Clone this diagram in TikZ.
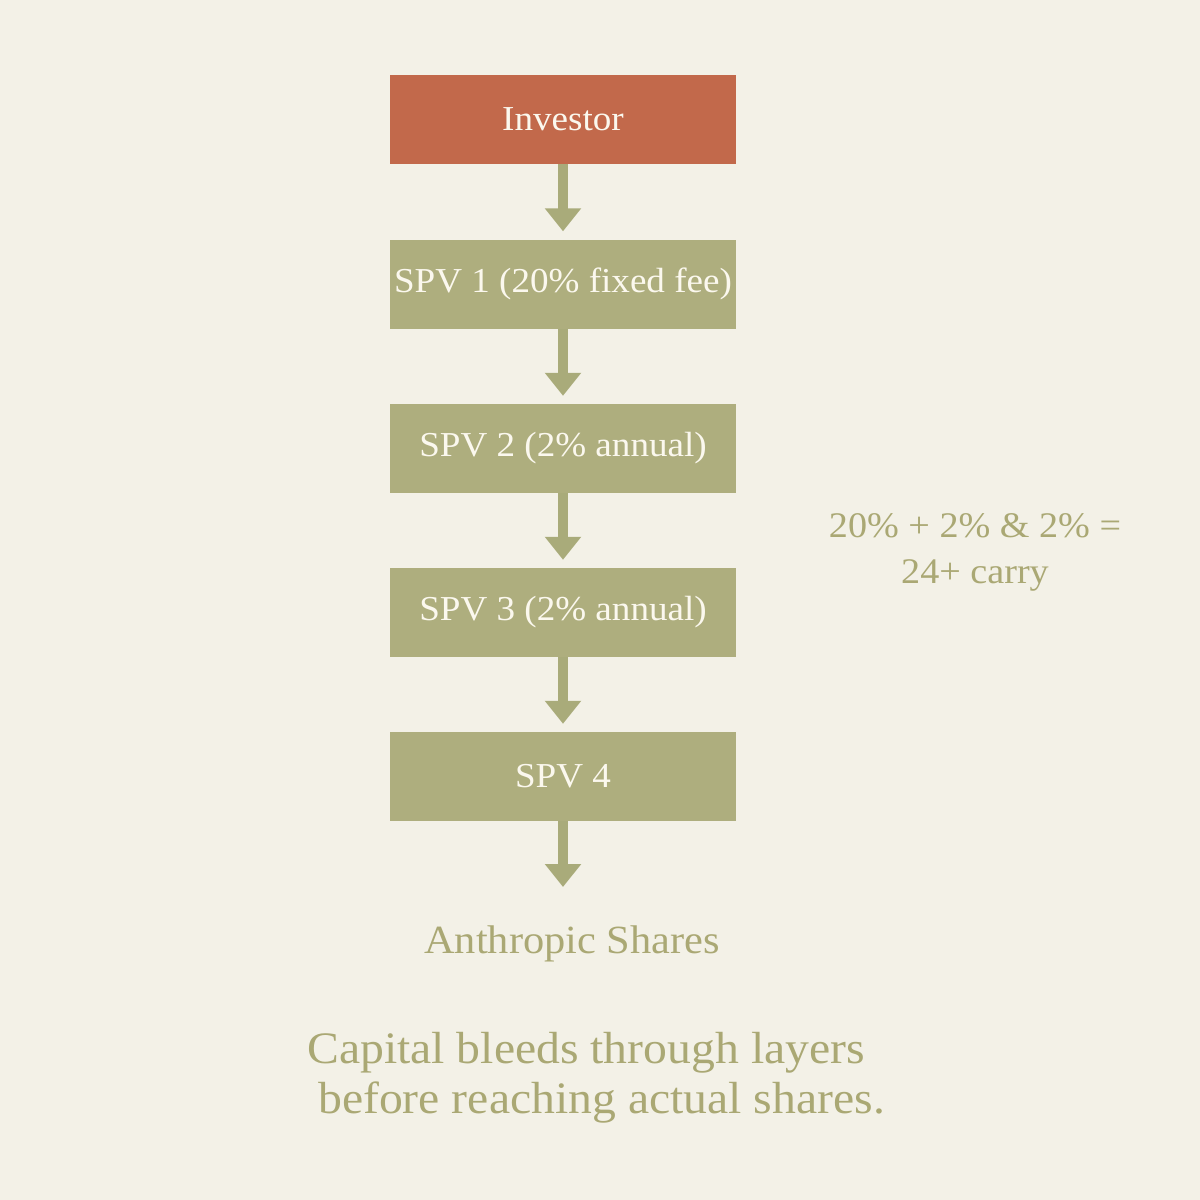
\documentclass[tikz,border=0pt]{standalone}
\usepackage{fontspec}
\setmainfont{Liberation Serif}[FakeStretch=1.06]
\usetikzlibrary{arrows.meta}
\definecolor{bgc}{HTML}{F3F1E7}
\definecolor{redbox}{HTML}{C2694B}
\definecolor{greenbox}{HTML}{AEAE7E}
\definecolor{arrowc}{HTML}{A9AB7A}
\definecolor{textg}{HTML}{AAA874}
\definecolor{boxtext}{HTML}{FBF8EE}
\tikzset{
  x=1pt,y=-1pt,
  stepbox/.style={minimum width=346pt,minimum height=89pt,inner sep=0pt,text=boxtext,font=\fontsize{35}{40}\selectfont},
  flow/.style={draw=arrowc,line width=10pt,-{Triangle[length=23pt,width=35pt]},shorten >=8pt},
  gtext/.style={text=textg,inner sep=0pt,align=center}
}
\begin{document}
\begin{tikzpicture}
\fill[bgc] (0,0) rectangle (1200,1200);
\useasboundingbox (0,0) rectangle (1200,1200);
\node[stepbox,fill=redbox] (inv) at (563,119) {Investor};
\node[stepbox,fill=greenbox] (s1) at (563,284) {SPV 1 (20\% fixed fee)};
\node[stepbox,fill=greenbox] (s2) at (563,448.5) {SPV 2 (2\% annual)};
\node[stepbox,fill=greenbox] (s3) at (563,612.5) {SPV 3 (2\% annual)};
\node[stepbox,fill=greenbox] (s4) at (563,776.5) {SPV 4};
\coordinate (end) at (563,895);
\node[gtext,font=\fontsize{40}{44}\selectfont] (ant) at (572,944) {Anthropic Shares};
\node[gtext,font=\fontsize{36}{46}\selectfont] (side) at (975,552) {20\% + 2\% \& 2\% =\\24+ carry};
\node[gtext,font=\fontsize{45}{50}\selectfont,anchor=base west] (cap1) at (307,1063) {Capital bleeds through layers};
\node[gtext,font=\fontsize{45}{50}\selectfont,anchor=base west] (cap2) at (318,1113) {before reaching actual shares.};
\draw[flow] (inv.south) -- (s1.north);
\draw[flow] (s1.south) -- (s2.north);
\draw[flow] (s2.south) -- (s3.north);
\draw[flow] (s3.south) -- (s4.north);
\draw[flow] (s4.south) -- (end);
\end{tikzpicture}
\end{document}
